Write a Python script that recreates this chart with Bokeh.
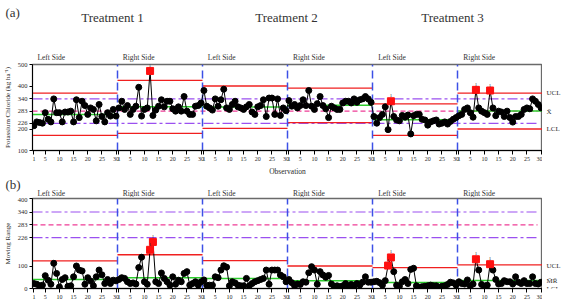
from bokeh.plotting import figure
from bokeh.layouts import column, row
from bokeh.models import Range1d, FixedTicker, ColumnDataSource, CustomJSTickFormatter
from bokeh.embed import file_html
from bokeh.resources import INLINE
from bokeh.core.properties import value

# ---- data -------------------------------------------------------------
treatments = ["Treatment 1", "Treatment 2", "Treatment 3"]
sides = ["Left Side", "Right Side"]
obs_ticks = [1, 5, 10, 15, 20, 25, 30]
N_OBS = 30

# individual potassium chloride readings (kg/ha), one list per treatment side
kcl_t1_left = [215, 233, 230, 227, 276, 245, 233, 340, 276, 276, 233, 279, 279, 283, 233,
               336, 253, 329, 309, 268, 298, 291, 238, 314, 258, 233, 276, 260, 291, 260]
kcl_t1_right = [298, 329, 291, 309, 268, 291, 306, 394, 260, 291, 298, 470, 263, 288, 306,
                336, 303, 329, 329, 294, 283, 303, 283, 351, 283, 268, 268, 306, 309, 321]
kcl_t2_left = [379, 306, 298, 288, 340, 306, 336, 385, 298, 291, 314, 329, 303, 298, 291,
               303, 314, 279, 268, 303, 309, 336, 258, 344, 344, 268, 340, 263, 298, 285]
kcl_t2_right = [332, 306, 314, 298, 309, 336, 309, 379, 306, 291, 318, 351, 309, 294, 253,
                306, 298, 291, 291, 321, 329, 329, 321, 340, 324, 336, 340, 351, 340, 324]
kcl_t3_left = [258, 227, 253, 268, 303, 197, 329, 258, 242, 238, 263, 255, 265, 177, 262,
               268, 268, 245, 242, 218, 233, 238, 242, 223, 227, 233, 223, 235, 245, 253]
kcl_t3_right = [262, 268, 291, 298, 276, 255, 382, 298, 283, 276, 268, 379, 298, 262, 283,
                279, 258, 283, 253, 232, 258, 258, 268, 291, 298, 294, 340, 329, 314, 298]

# moving ranges
mr_t1_left = [22, 19, 12, 15, 57, 37, 19, 112, 67, 7, 40, 48, 10, 12, 52,
              100, 82, 78, 19, 48, 33, 12, 52, 82, 61, 22, 40, 22, 37, 34]
mr_t1_right = [40, 48, 45, 30, 22, 25, 20, 93, 139, 30, 19, 172, 207, 30, 22,
               69, 45, 30, 15, 52, 19, 37, 30, 67, 75, 15, 22, 30, 15, 30]
mr_t2_left = [38, 15, 15, 15, 52, 48, 82, 101, 95, 12, 30, 25, 15, 12, 12,
              45, 12, 22, 30, 35, 40, 45, 82, 19, 82, 82, 82, 60, 52, 30]
mr_t2_right = [40, 26, 12, 20, 18, 30, 28, 70, 97, 82, 19, 75, 60, 50, 58,
               20, 10, 12, 8, 12, 22, 8, 18, 12, 22, 15, 28, 52, 28, 28]
mr_t3_left = [30, 32, 26, 15, 35, 102, 138, 75, 15, 10, 30, 40, 22, 85, 90,
              12, 5, 8, 10, 12, 15, 12, 12, 5, 10, 12, 18, 28, 25, 15]
mr_t3_right = [30, 22, 20, 38, 12, 20, 130, 82, 18, 10, 15, 108, 82, 40, 20,
               22, 35, 30, 30, 20, 52, 28, 22, 35, 22, 22, 52, 22, 20, 28]

# control limits per segment
kcl_center = [268, 303, 302, 310, 243.5, 284]
kcl_ucl = [367, 426, 400, 390, 317, 367]
kcl_lcl = [170, 180, 203, 230, 170, 200]
mr_center = [40, 48, 44, 34, 27, 36]
mr_ucl = [123, 150, 124, 100, 93, 105]
mr_lcl = [0, 0, 0, 0, 0, 0]

zone_levels = [226, 283, 340]
kcl_yticks = [100, 200, 226, 283, 340, 400, 500]
mr_yticks = [0, 100, 226, 283, 340, 400]

kcl_series = [kcl_t1_left, kcl_t1_right, kcl_t2_left, kcl_t2_right, kcl_t3_left, kcl_t3_right]
mr_series = [mr_t1_left, mr_t1_right, mr_t2_left, mr_t2_right, mr_t3_left, mr_t3_right]

# ---- style ------------------------------------------------------------
SERIF = "Liberation Serif"
TXT = "#2a2a2a"
HEAD = "#333333"
RED = "#f02020"
GREEN = "#2ccc2c"
PURPLE = "#9b50f0"
PINK = "#ee3c96"
BLUE = "#3c50e6"

W = 567
FRAME_L, FRAME_R = 31, 542
STRIP_W = W - FRAME_R
N_SEG = len(kcl_series)
X_MAX = N_SEG * N_OBS


def xpos(seg, k):
    return seg * N_OBS + k - 0.5


def px_to_x(px):
    return (px - FRAME_L) * X_MAX / (FRAME_R - FRAME_L)


def bare(width, height, x_range, y_range, top=0, bottom=0):
    """A figure with no axes whose frame fills the canvas (used for text rows)."""
    f = figure(width=width, height=height, output_backend="svg", toolbar_location=None,
               x_range=x_range, y_range=y_range, x_axis_location=None,
               y_axis_location=None, min_border=0, min_border_top=top,
               min_border_bottom=bottom)
    f.outline_line_color = None
    f.xgrid.visible = False
    f.ygrid.visible = False
    f.background_fill_color = "white"
    f.border_fill_color = "white"
    return f


def header(height, items):
    """Text row above a panel; items are (x_data, row_px, text, size, align)."""
    h = bare(W, height, Range1d(px_to_x(0), px_to_x(W)), Range1d(height, 0))
    for x, y, text, size, align in items:
        h.text([x], [y], text=[text], text_font=value(SERIF), text_font_size=size,
               text_align=align, text_baseline="middle", text_color=HEAD)
    return h


def side_items(row_px):
    return [(s * N_OBS + 2.1, row_px, sides[s % 2], "7.5px", "left") for s in range(N_SEG)]


def build_panel(series, centers, ucls, lcls, y0, y1, yticks, ylabel, xlabel,
                height, top, bottom, right_labels):
    yr = Range1d(y0, y1)
    p = figure(width=FRAME_R, height=height, output_backend="svg", toolbar_location=None,
               x_range=Range1d(0, X_MAX), y_range=yr,
               min_border_left=FRAME_L, min_border_right=0,
               min_border_top=top, min_border_bottom=bottom)
    p.background_fill_color = "white"
    p.border_fill_color = "white"
    p.outline_line_color = "#6a6a6a"
    p.outline_line_width = 1.3
    p.xgrid.visible = False
    p.ygrid.visible = False

    # zone lines across all segments
    zone_end = px_to_x(537)
    for lvl in zone_levels:
        if lvl == 283:
            p.line([0, zone_end], [lvl, lvl], line_color=PINK, line_width=1.2, line_dash="5 3")
        else:
            p.line([0, zone_end], [lvl, lvl], line_color=PURPLE, line_width=1.2,
                   line_dash="10 3 3 3")

    # segment limits
    for s in range(N_SEG):
        xs = [s * N_OBS, (s + 1) * N_OBS]
        p.line(xs, [ucls[s]] * 2, line_color=RED, line_width=1.3)
        if lcls[s] > y0:
            p.line(xs, [lcls[s]] * 2, line_color=RED, line_width=1.3)
        p.line(xs, [centers[s]] * 2, line_color=GREEN, line_width=1.5)

    bounds = [s * N_OBS for s in range(1, N_SEG)]
    p.segment(x0=bounds, y0=[y0] * len(bounds), x1=bounds, y1=[y1] * len(bounds),
              line_color=BLUE, line_width=1.5, line_dash="8 4")

    xs, ys, fx, fy = [], [], [], []
    for s, vals in enumerate(series):
        for k, v in enumerate(vals, start=1):
            xs.append(xpos(s, k))
            ys.append(v)
            if v > ucls[s] or (lcls[s] > y0 and v < lcls[s]):
                fx.append(xpos(s, k))
                fy.append(v)

    p.line(xs, ys, line_color="black", line_width=1)
    p.scatter(xs, ys, size=6, fill_color="black", line_color="black")
    flag_src = ColumnDataSource(dict(x=fx, y=fy, t=["1"] * len(fx)))
    p.scatter("x", "y", source=flag_src, marker="square", size=7,
              fill_color="#ff1010", line_color="#ff1010")
    p.text("x", "y", text="t", source=flag_src, text_font=value(SERIF),
           text_font_size="5px", text_align="center", text_baseline="bottom",
           y_offset=-4, text_color="#333333")

    # axes
    ticks = [xpos(s, k) for s in range(N_SEG) for k in obs_ticks]
    p.xaxis.ticker = FixedTicker(ticks=ticks)
    p.xaxis.formatter = CustomJSTickFormatter(
        code="return String((Math.round(tick + 0.5) - 1) %% %d + 1);" % N_OBS)
    p.xaxis.minor_tick_line_color = None
    p.xaxis.major_tick_in = 0
    p.xaxis.major_tick_out = 4
    p.xaxis.major_label_standoff = 2
    p.xaxis.major_label_text_font = SERIF
    p.xaxis.major_label_text_font_size = "6px"
    p.xaxis.major_label_text_color = TXT
    if xlabel:
        p.xaxis.axis_label = xlabel
        p.xaxis.axis_label_text_font = SERIF
        p.xaxis.axis_label_text_font_size = "7.5px"
        p.xaxis.axis_label_text_font_style = "normal"
        p.xaxis.axis_label_standoff = 3
        p.xaxis.axis_label_text_color = TXT

    p.yaxis.ticker = FixedTicker(ticks=yticks)
    p.yaxis.minor_tick_line_color = None
    p.yaxis.major_tick_in = 0
    p.yaxis.major_tick_out = 3
    p.yaxis.major_label_standoff = 2
    p.yaxis.major_label_text_font = SERIF
    p.yaxis.major_label_text_font_size = "6.5px"
    p.yaxis.major_label_text_color = TXT
    p.yaxis.axis_label = ylabel
    p.yaxis.axis_label_text_font = SERIF
    p.yaxis.axis_label_text_font_size = "7px"
    p.yaxis.axis_label_text_font_style = "normal"
    p.yaxis.axis_label_standoff = 3
    p.yaxis.axis_label_text_color = TXT

    # limit names to the right of the frame, sharing the panel's y scale
    strip = bare(STRIP_W, height, Range1d(0, STRIP_W), yr, top=top, bottom=bottom)
    for text, yv in right_labels:
        strip.text([4], [yv], text=[text], text_font=value(SERIF), text_font_size="7px",
                   text_align="left", text_baseline="middle", text_color=TXT)
    return row(p, strip, spacing=0)


# panel (a): rows 0-62 header, 62-178 chart
head_a = header(62, [(px_to_x(5), 12, "(a)", "13px", "left")]
                + [(px_to_x(cx), 17, name, "13px", "center")
                   for name, cx in zip(treatments, [112, 286, 452])]
                + side_items(57))
panel_a = build_panel(kcl_series, kcl_center, kcl_ucl, kcl_lcl, 100, 500, kcl_yticks,
                      "Potassium Chloride (kg ha\u207b\u00b9)", "Observation",
                      116, 2, 26,
                      [("UCL", kcl_ucl[-1]), ("X\u0304", kcl_center[-1] - 4),
                       ("LCL", kcl_lcl[-1])])

# panel (b): rows 178-197 header, 197-305 chart
head_b = header(19, [(px_to_x(5), 6, "(b)", "13px", "left")] + side_items(15))
panel_b = build_panel(mr_series, mr_center, mr_ucl, mr_lcl, 0, 400, mr_yticks,
                      "Moving Range", None, 108, 1, 17,
                      [("UCL", 99), ("M\u0304R\u0304", 33), ("LCL", 0)])

layout = column(head_a, panel_a, head_b, panel_b, spacing=0)
open("out.html", "w").write(file_html(layout, INLINE))
